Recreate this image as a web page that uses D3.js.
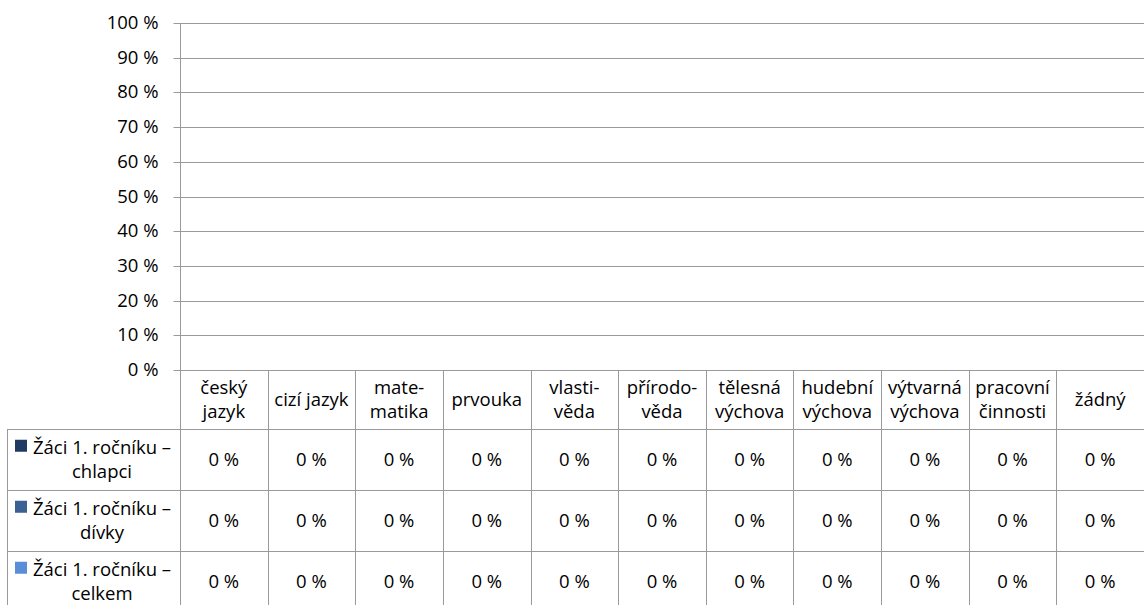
<!DOCTYPE html>
<html>
<head>
<meta charset="utf-8">
<script src="https://cdn.jsdelivr.net/npm/d3@7"></script>
<style>
  html, body { margin: 0; padding: 0; background: #fff; }
  svg { display: block; }
  text { font-family: "Open Sans", "Noto Sans", sans-serif; fill: #000; }
</style>
</head>
<body>
<svg id="chart" width="1144" height="605"></svg>
<script>
// ---- data ----
const categories = ["český\njazyk", "cizí jazyk", "mate-\nmatika", "prvouka", "vlasti-\nvěda",
  "přírodo-\nvěda", "tělesná\nvýchova", "hudební\nvýchova", "výtvarná\nvýchova",
  "pracovní\nčinnosti", "žádný"];
const seriesNames = ["Žáci 1. ročníku –\nchlapci", "Žáci 1. ročníku –\ndívky", "Žáci 1. ročníku –\ncelkem"];
const seriesColors = ["#1f3a63", "#3a6094", "#5a8fd8"];
const valuesChlapci = [0, 0, 0, 0, 0, 0, 0, 0, 0, 0, 0];
const valuesDivky   = [0, 0, 0, 0, 0, 0, 0, 0, 0, 0, 0];
const valuesCelkem  = [0, 0, 0, 0, 0, 0, 0, 0, 0, 0, 0];
const yTicks = [0, 0.1, 0.2, 0.3, 0.4, 0.5, 0.6, 0.7, 0.8, 0.9, 1.0];

const series = [valuesChlapci, valuesDivky, valuesCelkem];

// ---- layout ----
const svg = d3.select("#chart");
const W = 1144, H = 605;
const plotLeft = 180, plotRight = 1144, plotTop = 23, plotBottom = 370;
const rowH = [59, 61, 61, 61];       // header, then rows
const tableLeft = 7;
const fontSize = 18.5;
const lineH = 23.5;
const gridColor = "#9a9a9a";

const x = d3.scaleBand().domain(categories).range([plotLeft, plotRight]);
const xs = d3.scaleBand().domain(d3.range(series.length)).range([0, x.bandwidth()]).paddingInner(0).paddingOuter(0.6);
const y = d3.scaleLinear().domain([0, 1]).range([plotBottom, plotTop]);

// gridlines
svg.append("g").selectAll("line").data(yTicks).join("line")
  .attr("x1", plotLeft).attr("x2", plotRight)
  .attr("y1", d => Math.round(y(d)) + 0.5).attr("y2", d => Math.round(y(d)) + 0.5)
  .attr("stroke", gridColor).attr("stroke-width", 1);

// bars
series.forEach((vals, si) => {
  svg.append("g").selectAll("rect").data(vals).join("rect")
    .attr("x", (d, i) => x(categories[i]) + xs(si))
    .attr("width", xs.bandwidth())
    .attr("y", d => y(d))
    .attr("height", d => y(0) - y(d))
    .attr("fill", seriesColors[si]);
});

// y axis
const yAxis = d3.axisLeft(y).tickValues(yTicks).tickSize(7).tickPadding(15)
  .tickFormat(d => Math.round(d * 100) + " %");
const ga = svg.append("g").attr("transform", `translate(${plotLeft + 0.5},0)`).call(yAxis);
ga.select(".domain").attr("stroke", gridColor).attr("d", `M0,${plotTop}V${H}`);
ga.selectAll(".tick line").attr("stroke", gridColor);
ga.selectAll(".tick").attr("transform", d => `translate(0,${Math.round(y(d)) + 0.5})`);
ga.selectAll(".tick text").attr("font-family", "Open Sans").attr("font-size", fontSize).attr("fill", "#000");

// data table
const rowTops = [plotBottom];
for (let i = 1; i < rowH.length; i++) rowTops.push(rowTops[i - 1] + rowH[i - 1]);
const tbl = svg.append("g");

// horizontal lines for data rows
tbl.selectAll("line.h").data(rowTops.slice(1)).join("line")
  .attr("x1", tableLeft).attr("x2", plotRight)
  .attr("y1", d => d + 0.5).attr("y2", d => d + 0.5)
  .attr("stroke", gridColor);
// left border of legend column
tbl.append("line").attr("x1", tableLeft + 0.5).attr("x2", tableLeft + 0.5)
  .attr("y1", rowTops[1]).attr("y2", H).attr("stroke", gridColor);
// vertical column lines
tbl.selectAll("line.v").data(categories.slice(1)).join("line")
  .attr("x1", d => Math.round(x(d)) + 0.5).attr("x2", d => Math.round(x(d)) + 0.5)
  .attr("y1", plotBottom).attr("y2", H).attr("stroke", gridColor);

function multiline(g, str, cx, cy) {
  const lines = str.split("\n");
  const t = g.append("text").attr("text-anchor", "middle").attr("font-size", fontSize);
  lines.forEach((ln, i) => {
    t.append("tspan").attr("x", cx)
      .attr("y", cy + (i - (lines.length - 1) / 2) * lineH)
      .attr("dy", "0.35em").text(ln);
  });
  return t;
}

// header labels
categories.forEach(c => {
  multiline(tbl, c, x(c) + x.bandwidth() / 2, rowTops[0] + rowH[0] / 2);
});

// series rows
series.forEach((vals, si) => {
  const top = rowTops[si + 1], h = rowH[si + 1], cy = top + h / 2;
  const legendCx = 102;
  multiline(tbl, seriesNames[si], legendCx, cy);
  tbl.append("rect").attr("x", 15).attr("y", cy - lineH / 2 - 8)
    .attr("width", 12).attr("height", 12).attr("fill", seriesColors[si]);
  vals.forEach((v, i) => {
    tbl.append("text").attr("text-anchor", "middle").attr("font-size", fontSize)
      .attr("x", x(categories[i]) + x.bandwidth() / 2).attr("y", cy).attr("dy", "0.35em")
      .text(Math.round(v * 100) + " %");
  });
});
</script>
</body>
</html>
